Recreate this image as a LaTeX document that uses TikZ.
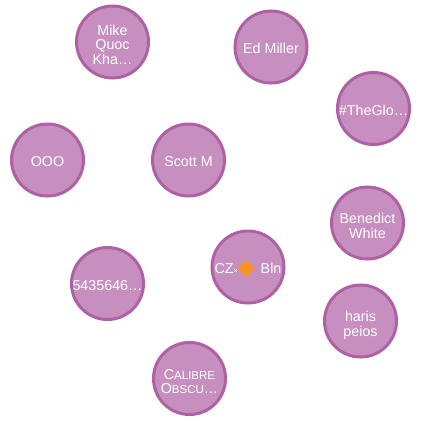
\documentclass[tikz,border=0pt]{standalone}
\usepackage{fontspec}
\setmainfont{Liberation Sans}
\usetikzlibrary{positioning}
\definecolor{bubblefill}{HTML}{C78FC0}
\definecolor{bubbleline}{HTML}{AE62A4}
\definecolor{gemorange}{HTML}{F7931E}
\tikzstyle{person}=[circle,fill=bubblefill,draw=bubbleline,line width=3pt,minimum size=72pt,inner sep=0pt,
  text=white,align=center,font=\fontsize{14.3}{14.5}\selectfont,
  execute at begin node={\rule{0pt}{14pt}}]
\newcommand{\smallc}[1]{{\fontsize{11.5}{14.5}\selectfont #1}}
\newcommand{\lines}[1]{\raisebox{-5pt}[\height][\depth]{\begin{tabular}{@{}c@{}}#1\end{tabular}}}

\begin{document}
\begin{tikzpicture}[x=1pt,y=-1pt]

   \useasboundingbox (0,0) rectangle (421,421);

    \foreach \pos/\name/\txt in {{(271,47)/ed/Ed Miller}, {(373.5,108.5)/glo/\#TheGlo\dots},
        {(47.5,160)/ooo/OOO}, {(188.5,160)/scott/Scott M}, {(107.5,283.5)/num/5435646\dots}}
        \node[person] (\name) at \pos {\txt};

    \foreach \pos/\name/\txt in {{(112.5,42)/mike/{Mike\\Quoc\\Kha\dots}}, {(367.5,223)/benedict/{Benedict\\White}},
        {(360.5,321)/haris/{haris\\peios}}, {(189.5,378.5)/calibre/{C\smallc{ALIBRE}\\O\smallc{BSCU}\dots}}}
        \node[person] (\name) at \pos {\lines{\txt}};

    \node[person] (cz) at (248,267) {CZ{\fontsize{7}{14}\selectfont ×}\raisebox{-3pt}[12pt][0pt]{\rotatebox{45}{\textcolor{gemorange}{\rule{12pt}{12pt}}}}\hspace{2pt} Bln};

\end{tikzpicture}
\end{document}
